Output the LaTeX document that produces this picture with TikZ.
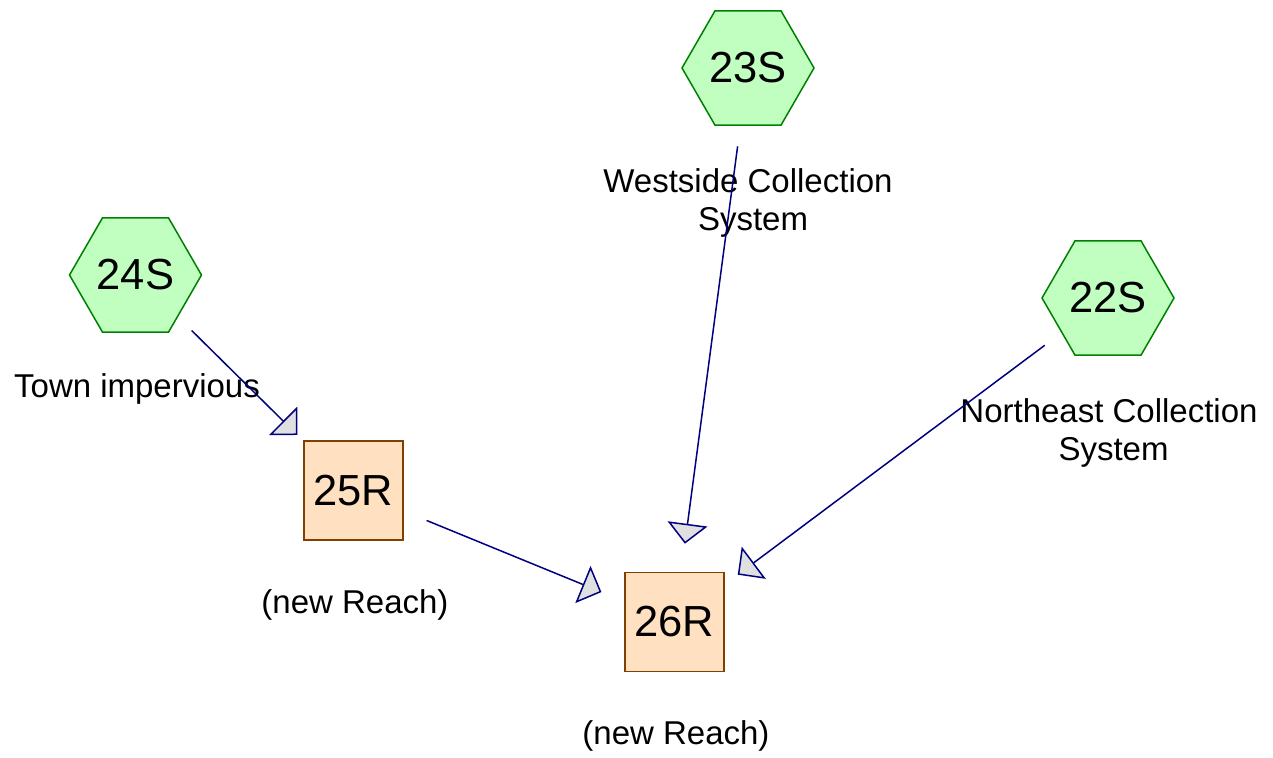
\documentclass[tikz,border=0pt]{standalone}
\usepackage{fontspec}
\setmainfont{Liberation Sans}
\usetikzlibrary{arrows.meta,shapes.geometric}
\definecolor{subfill}{HTML}{C0FFC0}
\definecolor{subline}{HTML}{008000}
\definecolor{reachfill}{HTML}{FFE0C0}
\definecolor{reachline}{HTML}{804000}
\definecolor{flowline}{HTML}{000080}
\definecolor{tipgray}{HTML}{E0E0E0}
\tikzset{
  subcat/.style={regular polygon, regular polygon sides=6, minimum size=132pt,
    inner sep=0pt, fill=subfill, draw=subline, line width=1.5pt,
    font=\fontsize{43.5}{48}\selectfont},
  reach/.style={rectangle, minimum size=99pt, inner sep=0pt, fill=reachfill,
    draw=reachline, line width=1.5pt, font=\fontsize{43.5}{48}\selectfont},
  caption/.style={font=\fontsize{33}{38}\selectfont, align=center, inner sep=0pt, anchor=base},
  flow/.style={draw=flowline, line width=1.5pt, shorten <=79pt, shorten >=79pt,
    -{Triangle[length=20pt, width=40pt, fill=tipgray]}},
}
\begin{document}
\begin{tikzpicture}[x=1pt, y=-1pt]
\useasboundingbox (0,0) rectangle (1273,757);

% subcatchments
\node[subcat] (s23) at (748,68) {23S};
\node[subcat] (s24) at (135.5,275) {24S};
\node[subcat] (s22) at (1108,298) {22S};

% reaches
\node[reach] (r25) at (353.5,490.5) {25R};
\node[reach] (r26) at (674.5,622) {26R};

% captions
\node[caption] (c24) at (137,397) {Town impervious};
\node[caption] (c23a) at (748,192) {Westside Collection};
\node[caption] (c23b) at (753,230) {System};
\node[caption] (c22a) at (1109,422) {Northeast Collection};
\node[caption] (c22b) at (1113.5,460) {System};
\node[caption] (c25) at (355,613) {(new Reach)};
\node[caption] (c26) at (676,744) {(new Reach)};

% flow links
\draw[flow] (s24.center) -- (r25.center);
\draw[flow] (s23.center) -- (r26.center);
\draw[flow] (s22.center) -- (r26.center);
\draw[flow] (r25.center) -- (r26.center);
\end{tikzpicture}
\end{document}
